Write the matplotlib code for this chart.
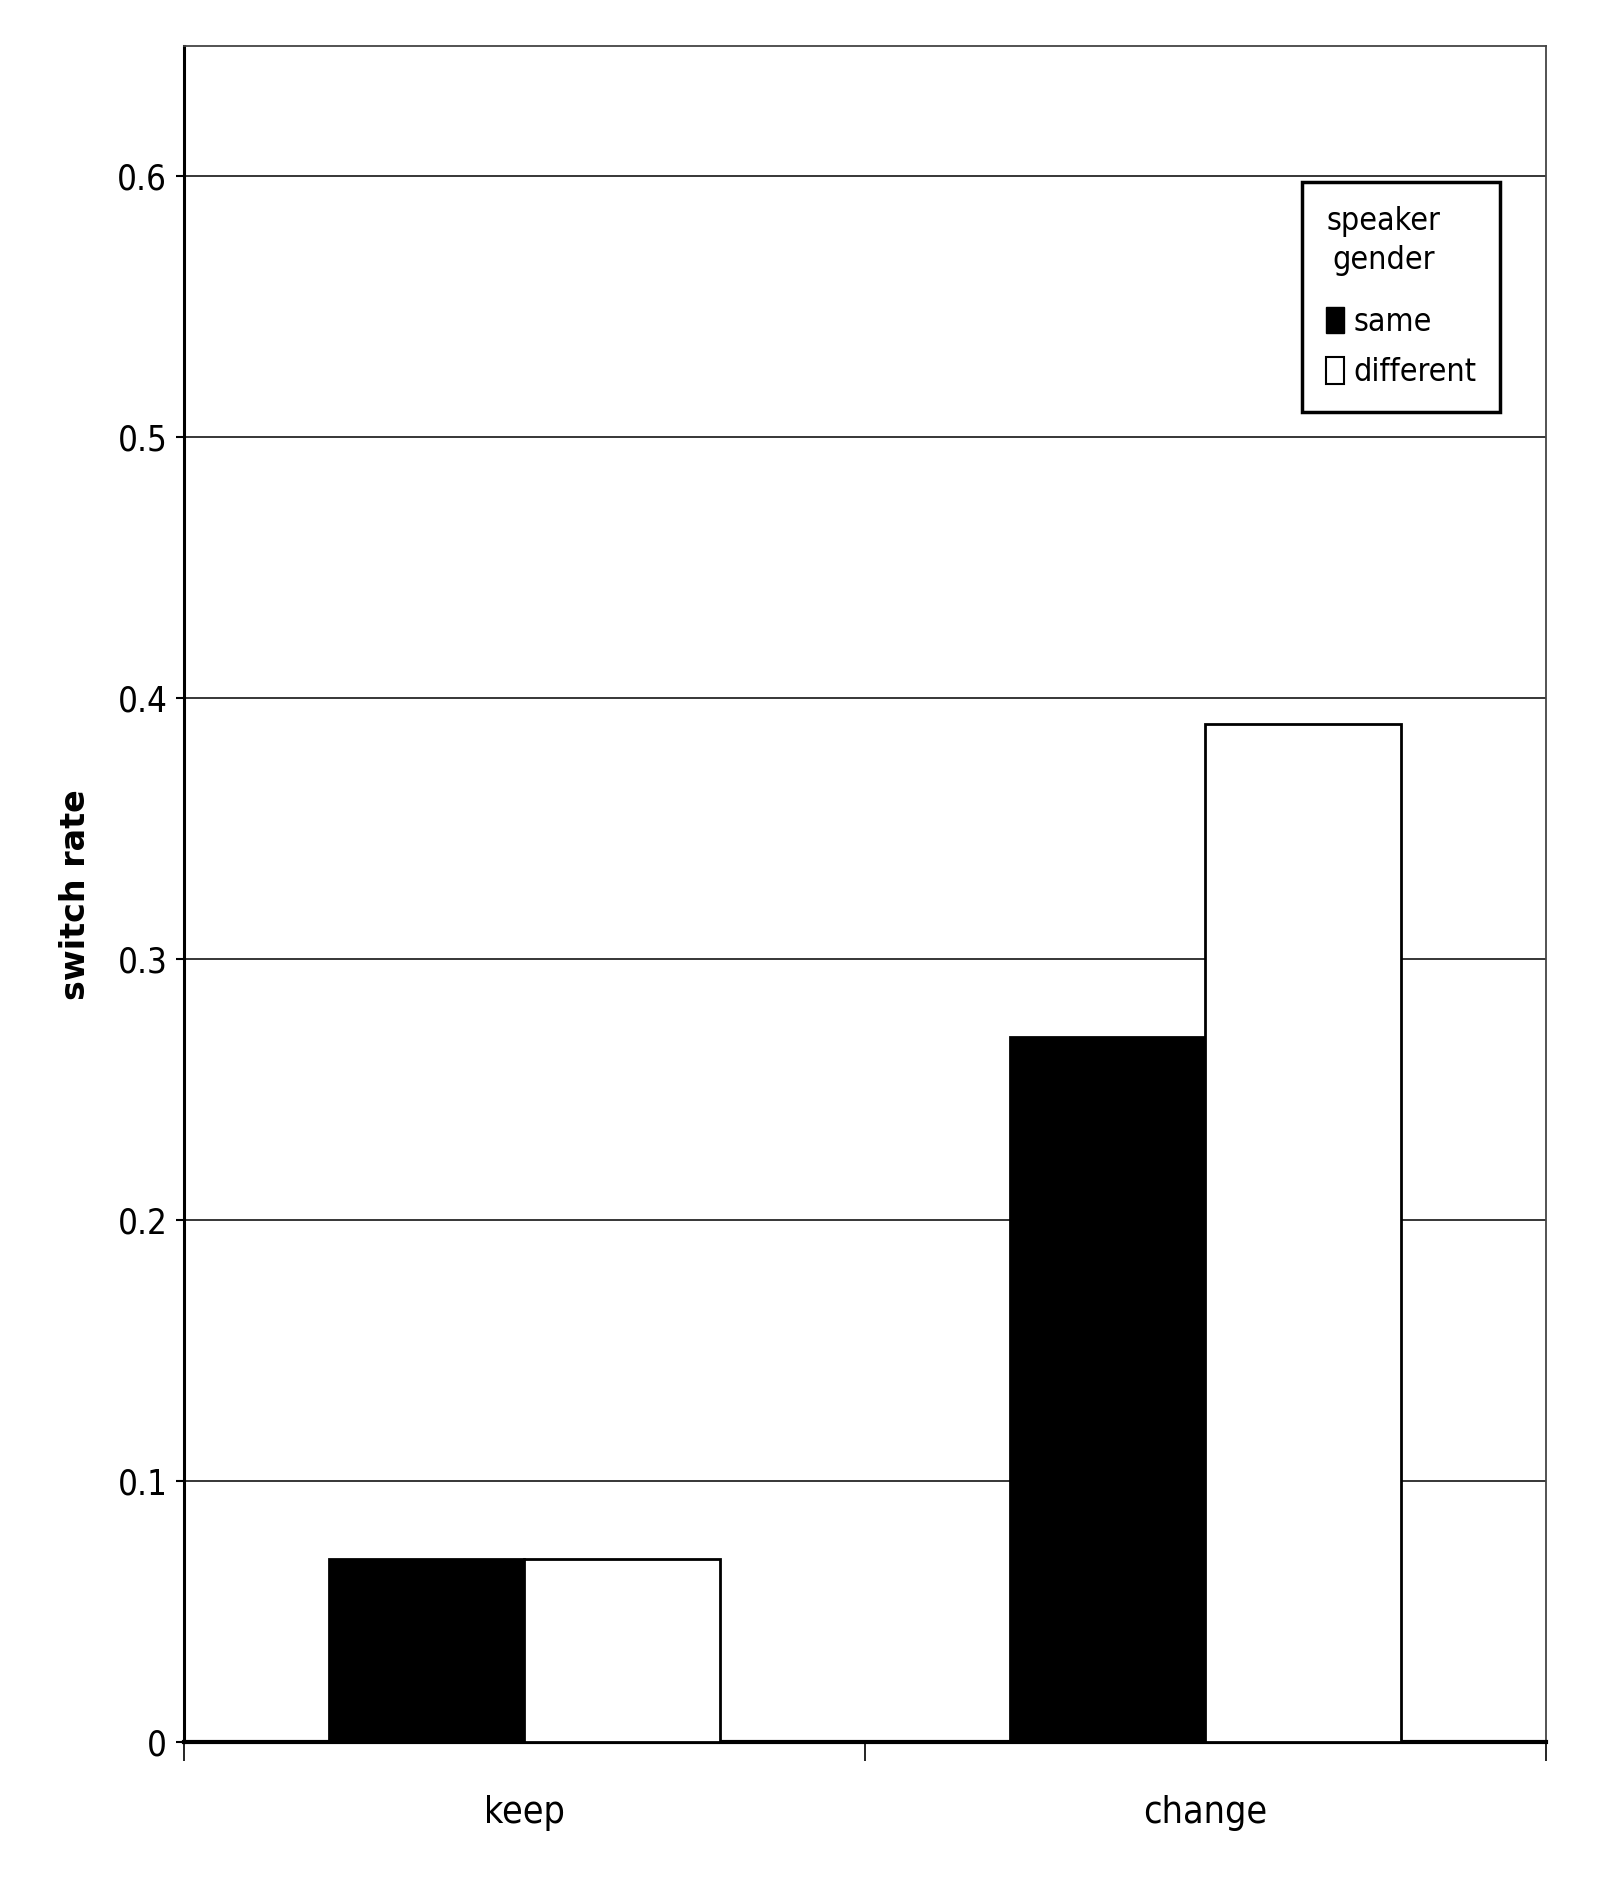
import matplotlib
matplotlib.use("Agg")
import matplotlib.pyplot as plt
import numpy as np
from matplotlib.patches import Patch

# data
kategorien = ["keep", "change"]
gleich = [0.07, 0.27]       # speaker gender: same
verschieden = [0.07, 0.39]  # speaker gender: different
y_ticks = [0, 0.1, 0.2, 0.3, 0.4, 0.5, 0.6]
y_labels = ["0", "0.1", "0.2", "0.3", "0.4", "0.5", "0.6"]

schrift = dict(family="DejaVu Sans", stretch="condensed")

fig = plt.figure(figsize=(16, 18.93), dpi=100)
ax = fig.add_axes([0.115, 0.0798, 0.851, 0.896])

x = np.arange(len(kategorien))
b = 0.287
ax.bar(x - b / 2, gleich, b, color="black", edgecolor="black", linewidth=2, zorder=3)
ax.bar(x + b / 2, verschieden, b, color="white", edgecolor="black", linewidth=2, zorder=3)

ax.set_xlim(-0.5, 1.5)
ax.set_ylim(0, 0.65)
ax.set_yticks(y_ticks)
ax.set_yticklabels(y_labels, fontsize=25, **schrift)
ax.yaxis.grid(True, color="black", linewidth=1.1, zorder=0)
ax.set_axisbelow(True)

# category labels centred, tick marks between categories
ax.set_xticks([-0.5, 0.5, 1.5])
ax.set_xticklabels([])
ax.set_xticks(x, minor=True)
ax.set_xticklabels(kategorien, minor=True, fontsize=27, **schrift)
ax.tick_params(axis="x", which="minor", length=0, pad=38)
ax.tick_params(axis="x", which="major", length=14, width=1.2, direction="out")
ax.tick_params(axis="y", length=6, width=1.5, pad=6)

for s in ["top", "right"]:
    ax.spines[s].set_linewidth(1.3)
    ax.spines[s].set_color("#444444")
ax.spines["left"].set_linewidth(2.2)
ax.spines["bottom"].set_linewidth(3)

fig.text(0.047, 1 - 895 / 1893, "switch rate", rotation=90, ha="center", va="center",
         fontsize=24, fontweight="bold", family="DejaVu Sans")

griffe = [Patch(facecolor="black", edgecolor="black", label="same"),
          Patch(facecolor="white", edgecolor="black", linewidth=1.5, label="different")]
leg = fig.legend(handles=griffe, title="speaker\ngender", loc="upper left",
                 bbox_to_anchor=(0.814, 0.904), bbox_transform=fig.transFigure,
                 fancybox=False, edgecolor="black", framealpha=1, borderaxespad=0,
                 prop=dict(size=23, **schrift), handlelength=0.55, handleheight=0.9,
                 handletextpad=0.3, borderpad=0.75, labelspacing=0.6)
titel = leg.get_title()
titel.set_fontsize(23)
titel.set_fontstretch("condensed")
titel.set_multialignment("center")
titel.set_linespacing(1.35)
leg._legend_box.align = "left"
leg._legend_box.sep = 22
leg.get_frame().set_linewidth(2.5)

fig.savefig("out.png", dpi=100)
